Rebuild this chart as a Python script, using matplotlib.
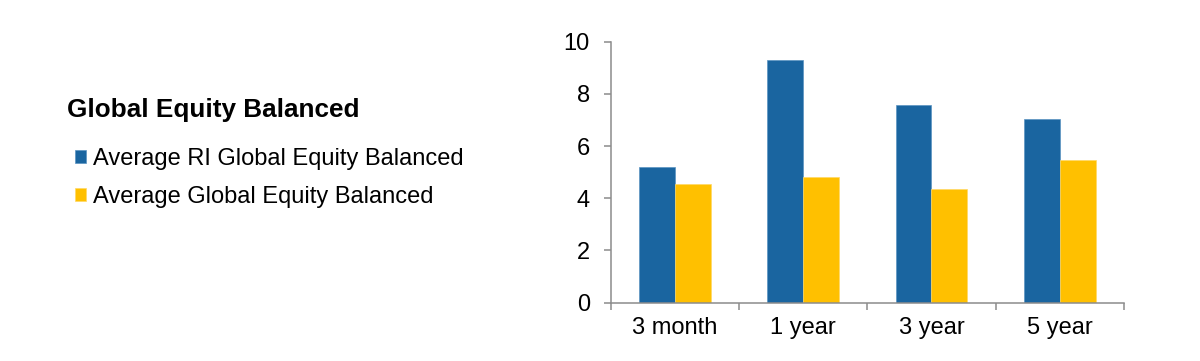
import matplotlib.pyplot as plt
import numpy as np

plt.rcParams['font.family'] = ['Liberation Sans', 'DejaVu Sans']

#---------------- data
periods = ["3 month", "1 year", "3 year", "5 year"]
ri_balanced = [5.19, 9.31, 7.56, 7.03]       # Average RI Global Equity Balanced
all_balanced = [4.54, 4.82, 4.36, 5.47]      # Average Global Equity Balanced
series_names = ["Average RI Global Equity Balanced", "Average Global Equity Balanced"]
y_ticks = [0, 2, 4, 6, 8, 10]

blue = "#1a65a0"
yellow = "#ffc000"
axis_grey = "#8c8c8c"

fig = plt.figure(figsize=(12, 3.61), dpi=100)
ax = fig.add_axes([0.509, 0.1615, 0.4275, 0.723])

x = np.arange(len(periods))
w = 0.28
b1 = ax.bar(x - w/2, ri_balanced, w, color=blue, edgecolor="#5b93c2", linewidth=0.5, label=series_names[0])
b2 = ax.bar(x + w/2, all_balanced, w, color=yellow, edgecolor="#ffd966", linewidth=0.5, label=series_names[1])

ax.set_xlim(-0.5, len(periods) - 0.5)
ax.set_ylim(0, 10)
ax.set_yticks(y_ticks)
ax.set_xticks(x)
ax.set_xticklabels(periods)
ax.set_xticks(np.arange(len(periods) + 1) - 0.5, minor=True)

for s in ["top", "right"]:
    ax.spines[s].set_visible(False)
for s in ["left", "bottom"]:
    ax.spines[s].set_color(axis_grey)
    ax.spines[s].set_linewidth(1.1)

ax.tick_params(axis="y", length=5, width=1.1, color=axis_grey, labelsize=17, pad=10)
ax.tick_params(axis="x", which="major", length=0, labelsize=17, pad=10)
ax.tick_params(axis="x", which="minor", length=5, width=1.1, color=axis_grey)

#---------------- legend on the left
fig.text(0.0556, 0.695, "Global Equity Balanced", fontsize=18.8, fontweight="bold", va="center", ha="left")
fig.legend(handles=[b1, b2], loc="upper left", bbox_to_anchor=(0.0625, 0.589),
           frameon=False, fontsize=17,
           handlelength=0.47, handleheight=0.47, handletextpad=0.3,
           labelspacing=0.66, borderpad=0, borderaxespad=0)

fig.savefig("out.png", dpi=100)
